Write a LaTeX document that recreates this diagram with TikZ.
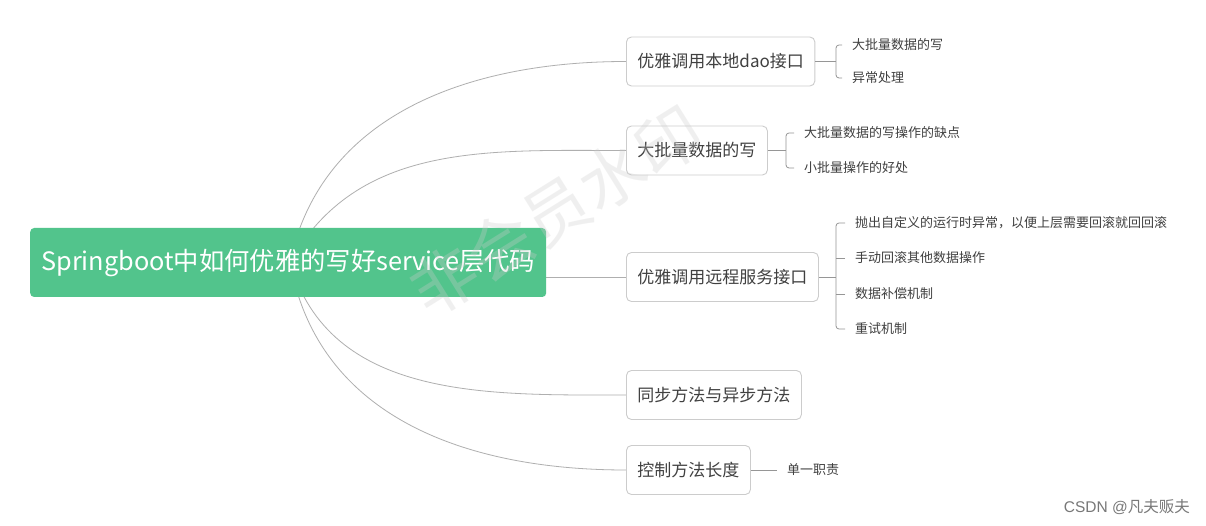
\documentclass[tikz,border=0pt]{standalone}
\usepackage{fontspec}
\setmainfont{Noto Sans CJK SC}
\newfontfamily\latinsans{Liberation Sans}
\usetikzlibrary{backgrounds}
\definecolor{rootgreen}{RGB}{82,196,140}
\definecolor{boxline}{RGB}{204,204,204}
\definecolor{curveline}{RGB}{175,175,175}
\definecolor{bracketline}{RGB}{150,150,150}
\definecolor{txt}{RGB}{64,64,64}
\definecolor{wmark}{RGB}{205,205,205}
\begin{document}
\begin{tikzpicture}[x=1pt,y=-1pt,
  rootbox/.style={draw=none,fill=rootgreen,rounded corners=4pt,text=white,
    font=\fontsize{25.3}{29}\selectfont,minimum width=516pt,minimum height=69pt,anchor=west,inner sep=0pt},
  topicbox/.style={draw=boxline,line width=0.9pt,fill=white,rounded corners=5pt,text=txt,
    font=\fontsize{17}{20}\selectfont,minimum height=49pt,inner xsep=11pt,anchor=west},
  leaf/.style={text=txt,font=\fontsize{13}{15}\selectfont,inner xsep=10pt,inner ysep=2pt,anchor=west},
  branch/.style={draw=curveline,line width=0.8pt},
  bracket/.style={draw=bracketline,line width=0.8pt,rounded corners=3pt}
]
\useasboundingbox (0,0) rectangle (1206,526);

% root
\node[rootbox] (root) at (30,262.5) {Springboot中如何优雅的写好service层代码};
\coordinate (hub) at (290,262);

% topics
\node[topicbox] (b1) at (626,61.5) {优雅调用本地dao接口};
\node[topicbox] (b2) at (626,150.5) {大批量数据的写};
\node[topicbox] (b3) at (626,277) {优雅调用远程服务接口};
\node[topicbox] (b4) at (626,395) {同步方法与异步方法};
\node[topicbox] (b5) at (626,470) {控制方法长度};

% leaves
\node[leaf] (l11) at (842,45) {大批量数据的写};
\node[leaf] (l12) at (842,78) {异常处理};
\node[leaf] (l21) at (794,133) {大批量数据的写操作的缺点};
\node[leaf] (l22) at (794,168) {小批量操作的好处};
\node[leaf] (l31) at (845,223) {抛出自定义的运行时异常，以便上层需要回滚就回回滚};
\node[leaf] (l32) at (845,258) {手动回滚其他数据操作};
\node[leaf] (l33) at (845,294) {数据补偿机制};
\node[leaf] (l34) at (845,329) {重试机制};
\node[leaf] (l51) at (777,470) {单一职责};

\coordinate (j1) at (836,61.5);
\coordinate (j2) at (786,150.5);
\coordinate (j3) at (836,277);

\begin{scope}[on background layer]
  \fill[white] (0,0) rectangle (1206,526);
  \draw[branch] (hub) .. controls (322,112) and (473,61.5) .. (b1.west);
  \draw[branch] (hub) .. controls (358,142) and (487,150.5) .. (b2.west);
  \draw[branch] (b3.west) -- (b3.west -| root.east);
  \draw[branch] (hub) .. controls (330,400) and (487,395) .. (b4.west);
  \draw[branch] (hub) .. controls (318,420) and (471,470) .. (b5.west);
\end{scope}

% brackets
\draw[bracketline,line width=0.8pt] (b1.east) -- (j1);
\draw[bracket] (l11.west) -| (j1) |- (l12.west);
\draw[bracketline,line width=0.8pt] (b2.east) -- (j2);
\draw[bracket] (l21.west) -| (j2) |- (l22.west);
\draw[bracketline,line width=0.8pt] (b3.east) -- (j3);
\draw[bracket] (l31.west) -| (j3) |- (l34.west);
\draw[bracketline,line width=0.8pt] (l32.west) -- (l32.west -| j3);
\draw[bracketline,line width=0.8pt] (l33.west) -- (l33.west -| j3);
\draw[bracketline,line width=0.8pt] (b5.east) -- (l51.west);

% watermark
\node[text=wmark,opacity=0.3,rotate=32,font=\fontsize{66}{70}\selectfont] (wm) at (556,211) {非会员水印};

% credit
\node[text={rgb,255:red,120;green,120;blue,120},font=\fontsize{15.5}{18}\selectfont,anchor=east,inner sep=0pt] (credit) at (1190,507) {{\latinsans CSDN @}凡夫贩夫};
\end{tikzpicture}
\end{document}
